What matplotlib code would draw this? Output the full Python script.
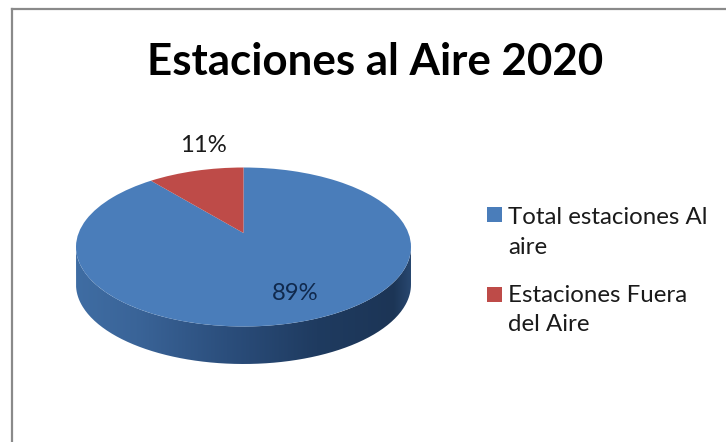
import numpy as np
import matplotlib
matplotlib.use("Agg")
import matplotlib.pyplot as plt
from matplotlib.colors import LinearSegmentedColormap
from matplotlib.lines import Line2D
from matplotlib.patches import PathPatch, Rectangle
from matplotlib.path import Path

plt.rcParams['font.family'] = ['Lato', 'DejaVu Sans']

title = "Estaciones al Aire 2020"
categories = ["Total estaciones Al\naire", "Estaciones Fuera\ndel Aire"]
values = [89, 11]
pct_labels = ["89%", "11%"]
colors = ["#4A7DBA", "#BE4B48"]

W, H = 726, 442
CX, CY, RX, RY, DEPTH = 243.5, 247.0, 167.5, 79.5, 37.5
K = 0.176  # perspective: moves the pie apex above the ellipse centre

fig = plt.figure(figsize=(W / 100, H / 100), dpi=100, facecolor="white")
ax = fig.add_axes([0, 0, 1, 1])

wedges, _ = ax.pie(values, startangle=90, counterclock=False, colors=colors)
ax.set_aspect("auto")
ax.set_xlim(0, W)
ax.set_ylim(H, 0)
ax.axis("off")

def to_px(xy):
    x, y = xy[:, 0], xy[:, 1]
    d = 1 + K * y
    xp = x * np.sqrt(1 - K ** 2) / d
    yp = (y + K) / d
    return np.column_stack([CX + RX * xp, CY - RY * yp])

# side wall with horizontal gradient
t = np.linspace(0, np.pi, 200)
top_edge = np.column_stack([CX + RX * np.cos(t), CY + RY * np.sin(t)])
bot_edge = np.column_stack([CX + RX * np.cos(t[::-1]), CY + DEPTH + RY * np.sin(t[::-1])])
side = Path(np.vstack([top_edge, bot_edge, top_edge[:1]]))
cmap = LinearSegmentedColormap.from_list("side", [
    (0.00, "#3F6DA3"), (0.18, "#3A6498"), (0.45, "#2B4E7C"),
    (0.72, "#1F3B60"), (0.95, "#1C3556"), (1.00, "#28476F")])
img = ax.imshow(np.linspace(0, 1, 256)[None, :], cmap=cmap, aspect="auto",
                extent=(CX - RX, CX + RX, CY + DEPTH + RY, CY), zorder=1)
img.set_clip_path(PathPatch(side, transform=ax.transData))
ax.set_xlim(0, W)
ax.set_ylim(H, 0)

# top face: wedges from pie, warped into perspective
for w in wedges:
    p = w.get_path()
    ax.add_patch(PathPatch(Path(to_px(p.vertices), p.codes), facecolor=w.get_facecolor(),
                           edgecolor="none", zorder=2))
    w.remove()

ax.text(295, 294, pct_labels[0], fontsize=17.2, color="#10294D", ha="center", va="center", zorder=3)
ax.text(203, 145, pct_labels[1], fontsize=17.2, color="#1A1A1A", ha="center", va="center", zorder=3)

ax.text(375.5, 62, title, fontsize=31.6, fontweight="bold", color="black", ha="center", va="center")

# legend
for cat, col, sy, ty in zip(categories, colors, [207, 287], [232.5, 310]):
    ax.add_patch(Rectangle((487, sy), 15, 15, facecolor=col, edgecolor="none"))
    ax.text(508, ty, cat, fontsize=17.3, color="#1A1A1A", ha="left", va="center", linespacing=1.5)

# chart frame
ax.add_line(Line2D([12, W], [9, 9], color="#8A8A8A", lw=1.6))
ax.add_line(Line2D([12, 12], [9, H], color="#8A8A8A", lw=1.6))

fig.savefig("out.png", dpi=100, facecolor="white")
